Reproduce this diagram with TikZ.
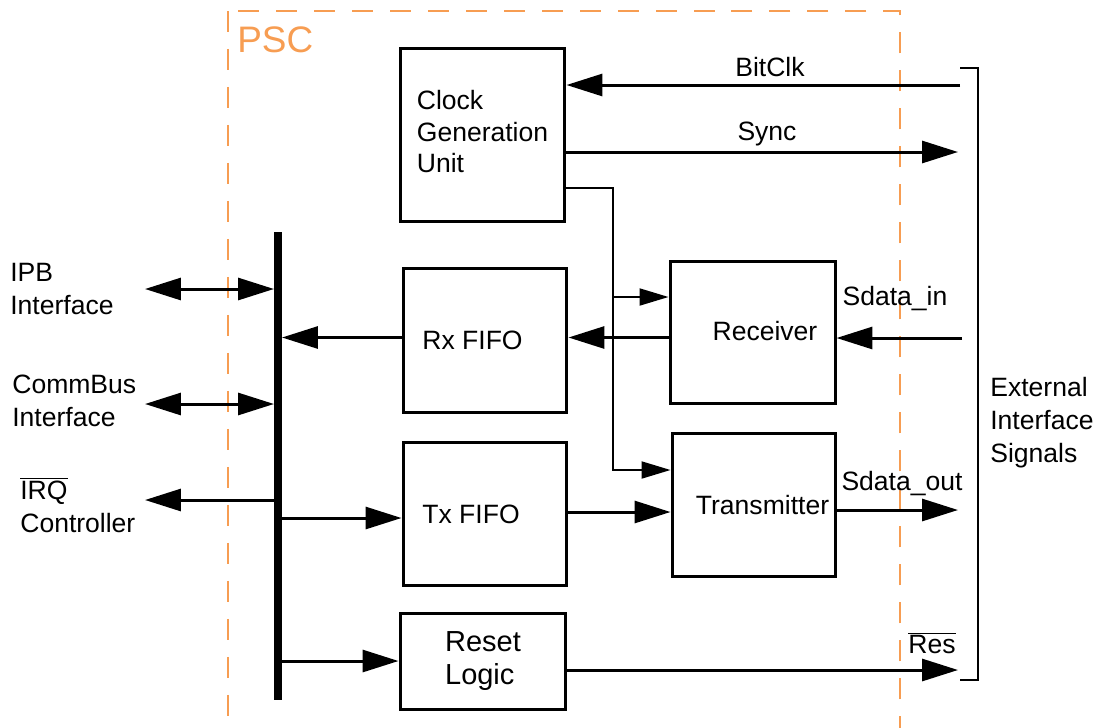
\documentclass[tikz,border=0pt]{standalone}
\usepackage{fontspec}
\setmainfont{Liberation Sans}
\usetikzlibrary{arrows.meta, positioning, calc}
\definecolor{pscorange}{RGB}{247,157,82}

\begin{document}
\begin{tikzpicture}[x=0.02cm, y=-0.02cm,
            block/.style={draw, line width=0.06cm, minimum width=3.3cm, minimum height=2.9cm, font=\fontsize{15.1}{18}\selectfont},
            lbl/.style={font=\fontsize{15.1}{18.8}\selectfont, inner sep=0pt},
            arrow/.style={-{Triangle[length=0.72cm,width=0.44cm]}, line width=0.06cm},
            darrow/.style={{Triangle[length=0.72cm,width=0.44cm]}-{Triangle[length=0.72cm,width=0.44cm]}, line width=0.06cm},
            thinarrow/.style={-{Triangle[length=0.58cm,width=0.34cm]}, line width=0.04cm}
        ]
        \useasboundingbox (0,0) rectangle (1097,727);
        \draw[pscorange, line width=0.04cm, dash pattern=on 0.42cm off 0.34cm] (228,11) rectangle (900,760);
        \node[text=pscorange, font=\fontsize{21}{21}\selectfont, anchor=west, inner sep=0pt] (psc) at (237,40) {PSC};
        % blocks
        \node[block, minimum height=3.48cm] (clk) at (482.5,135) {\raisebox{0.14cm}{\begin{tabular}{@{}l@{}}Clock\\Generation\\Unit\end{tabular}}};
        \node[block, minimum width=3.28cm] (rxf) at (485,340.5) {Rx FIFO\hspace*{0.5cm}};
        \node[block, minimum height=2.86cm] (rcv) at (752.5,332.5) {\hspace*{0.5cm}\raisebox{0.08cm}{Receiver}};
        \node[block, minimum width=3.28cm, minimum height=2.88cm] (txf) at (485,514) {Tx FIFO\hspace*{0.56cm}};
        \node[block, minimum width=3.26cm, minimum height=2.88cm] (tx) at (753.5,505) {\hspace*{0.36cm}Transmitter};
        \node[block, minimum width=3.32cm, minimum height=1.92cm, align=left, font=\fontsize{16.5}{19}\selectfont] (rst) at (483,661) {Reset\\Logic};
        % bus
        \coordinate (busT) at (278,232);
        \coordinate (busB) at (278,700);
        \draw[line width=0.16cm] (busT) -- (busB);
        % left side
        \coordinate (ipb) at (145,289);
        \coordinate (cbus) at (145,404);
        \coordinate (irq) at (145,500);
        \draw[darrow, shorten >=0.08cm] (ipb) -- (ipb -| busT);
        \draw[darrow, shorten >=0.08cm] (cbus) -- (cbus -| busT);
        \draw[arrow] (irq -| busT) -- (irq);
        \node[lbl, align=left, anchor=west] (ipbl) at (10,289) {IPB\\Interface};
        \node[lbl, align=left, anchor=west] (cbusl) at (12,401) {CommBus\\Interface};
        \node[lbl, align=left, anchor=west] (irql) at (20,505) {$\overline{\mbox{IRQ}}$\\Controller};
        \draw[arrow, shorten >=0.08cm] ($(rxf.west)+(0,-3)$) -- ($(rxf.west -| busT)+(0,-3)$);
        \draw[arrow] ($(txf.west -| busT)+(0,4)$) -- ($(txf.west)+(0,4)$);
        \draw[arrow] (rst.west -| busT) -- (rst.west);
        % inner connections
        \draw[arrow] ($(rcv.west)+(0,5)$) -- ($(rcv.west -| rxf.east)+(0,5)$);
        \draw[arrow] ($(txf.east)+(0,-2)$) -- ($(txf.east -| tx.west)+(0,-2)$);
        \coordinate (tap) at (613,188);
        \coordinate (rcvclk) at ($(rcv.west)+(0,-35.5)$);
        \draw[thinarrow] (tap -| clk.east) -- (tap) |- ($(tx.west)+(0,-35)$);
        \draw[thinarrow] (tap |- rcvclk) -- (rcvclk);
        % right side
        \coordinate (bitclk) at (960,85);
        \coordinate (sync) at (958,152);
        \coordinate (sdin) at (962,338);
        \coordinate (sdout) at (958,510);
        \coordinate (res) at (958,670);
        \draw[arrow] (bitclk) -- (bitclk -| clk.east);
        \draw[arrow] (sync -| clk.east) -- (sync);
        \draw[arrow] (sdin) -- (sdin -| rcv.east);
        \draw[arrow] (sdout -| tx.east) -- (sdout);
        \draw[arrow] (res -| rst.east) -- (res);
        \node[lbl] (bitclkl) at (770,67) {BitClk};
        \node[lbl] (syncl) at (767,134) {Sync};
        \node[lbl] (sdinl) at (895,299) {Sdata\_in};
        \node[lbl] (sdoutl) at (902,484) {Sdata\_out};
        \node[lbl] (resl) at (932,643) {$\overline{\mbox{Res}}$};
        \coordinate (brT) at (960,68);
        \coordinate (brB) at (960,680);
        \draw[line width=0.04cm] (brT) -- ++(18,0) |- (brB);
        \node[lbl, align=left, anchor=west] (extl) at (990,423) {External\\Interface\\Signals};
        \end{tikzpicture}
\end{document}
